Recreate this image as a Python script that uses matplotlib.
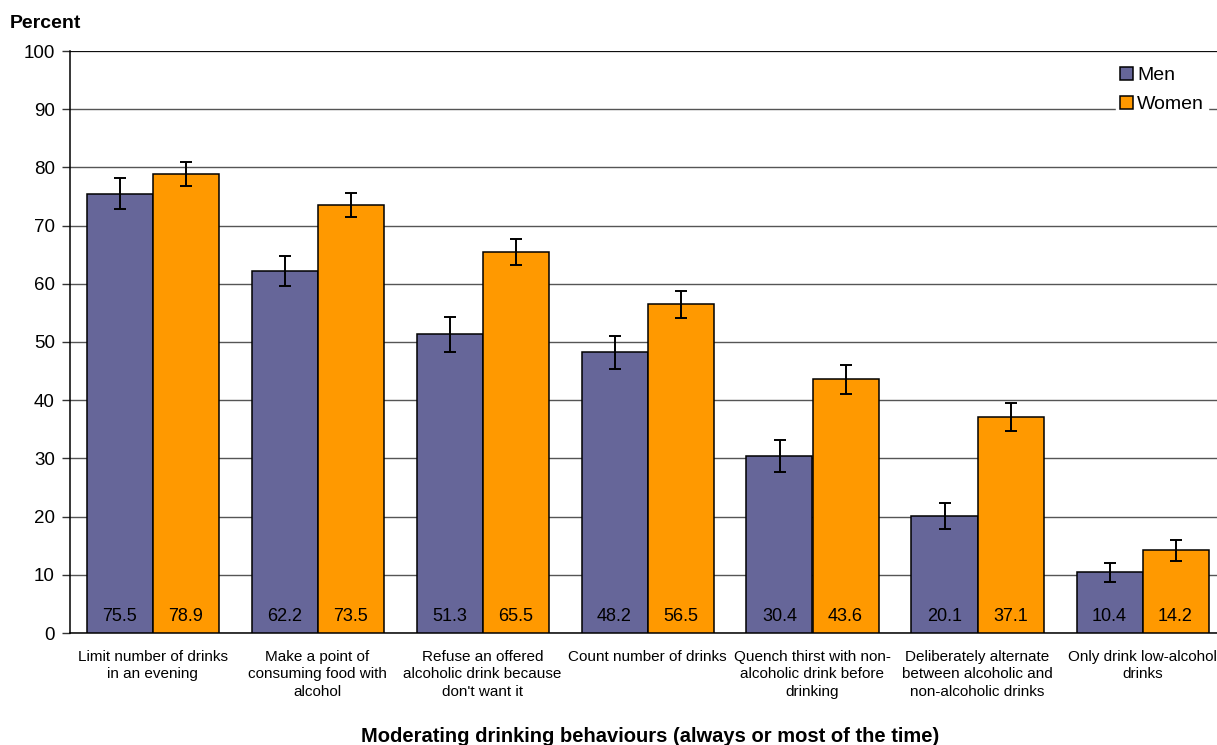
import numpy as np
import matplotlib
matplotlib.use("Agg")
import matplotlib.pyplot as plt

plt.rcParams['font.family'] = ['Liberation Sans', 'DejaVu Sans']

categories = [
    "Limit number of drinks\nin an evening",
    "Make a point of\nconsuming food with\nalcohol",
    "Refuse an offered\nalcoholic drink because\ndon't want it",
    "Count number of drinks",
    "Quench thirst with non-\nalcoholic drink before\ndrinking",
    "Deliberately alternate\nbetween alcoholic and\nnon-alcoholic drinks",
    "Only drink low-alcohol\ndrinks",
]
men = [75.5, 62.2, 51.3, 48.2, 30.4, 20.1, 10.4]
women = [78.9, 73.5, 65.5, 56.5, 43.6, 37.1, 14.2]
men_err = [2.6, 2.6, 3.0, 2.8, 2.7, 2.2, 1.7]
women_err = [2.1, 2.1, 2.2, 2.3, 2.5, 2.4, 1.8]

W, H = 1217, 745
fig = plt.figure(figsize=(W / 100, H / 100), dpi=100)
# axes runs a little past the right edge, as in the original
ax = fig.add_axes([70 / W, (H - 633) / H, 1155 / W, 582 / H])

x = np.arange(len(categories))
bw = 0.4
err_kw = dict(ecolor='black', elinewidth=1.4, capsize=4, capthick=1.4)
ax.bar(x - bw / 2, men, bw, color='#666699', edgecolor='black', linewidth=1.1,
       yerr=men_err, error_kw=err_kw, label='Men', zorder=3)
ax.bar(x + bw / 2, women, bw, color='#FF9900', edgecolor='black', linewidth=1.1,
       yerr=women_err, error_kw=err_kw, label='Women', zorder=3)

for xi, m, w in zip(x, men, women):
    ax.text(xi - bw / 2, 2.9, f"{m:.1f}", ha='center', va='center', fontsize=13, zorder=4)
    ax.text(xi + bw / 2, 2.9, f"{w:.1f}", ha='center', va='center', fontsize=13, zorder=4)

ax.set_xlim(-0.5, 6.5)
ax.set_ylim(0, 100)
ax.set_yticks(range(0, 101, 10))
ax.yaxis.grid(True, color='#555555', linewidth=1.0, zorder=0)
ax.set_axisbelow(True)
ax.tick_params(axis='y', labelsize=13.5, length=6, width=1, color='#333333', pad=5)
ax.set_xticks(x)
ax.set_xticklabels(categories, fontsize=11, linespacing=1.32)
ax.tick_params(axis='x', length=0, pad=12)

for s in ['top', 'right']:
    ax.spines[s].set_visible(False)
ax.spines['left'].set_linewidth(1.1)
ax.spines['bottom'].set_linewidth(1.1)
ax.axhline(100, color='black', linewidth=1.2, zorder=1)

fig.text(10 / W, 1 - 24 / H, "Percent", fontsize=14, fontweight='bold', va='center', ha='left')
fig.text(650 / W, 1 - 736 / H, "Moderating drinking behaviours (always or most of the time)",
         fontsize=14.5, fontweight='bold', ha='center', va='center')

ax.legend(loc='upper left', bbox_to_anchor=(1116 / W, 1 - 63 / H), bbox_transform=fig.transFigure,
          fontsize=14, frameon=True, fancybox=False, edgecolor='white', facecolor='white',
          framealpha=1, handlelength=0.65, handleheight=0.65, handletextpad=0.25,
          borderpad=0.2, labelspacing=0.6, borderaxespad=0)

fig.savefig("out.png", dpi=100)
